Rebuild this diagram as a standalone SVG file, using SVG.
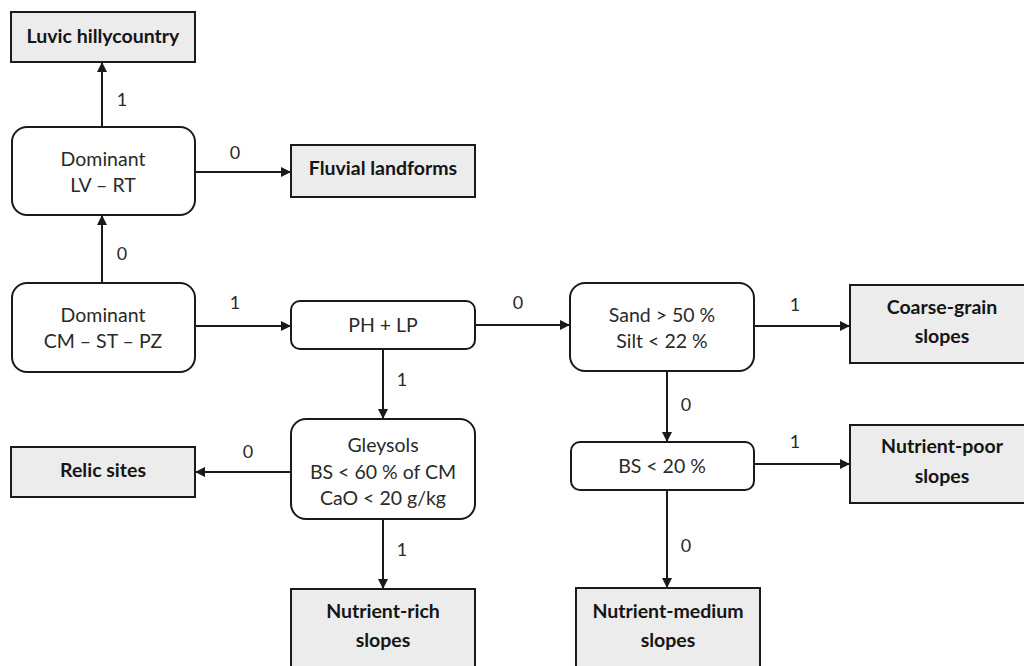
<svg xmlns="http://www.w3.org/2000/svg" width="1024" height="666" viewBox="0 0 1024 666">
<style>
.dec{fill:#fff;stroke:#1a1a1a;stroke-width:2}
.term{fill:#ececec;stroke:#1a1a1a;stroke-width:2}
.t{font-family:Lato,"Liberation Sans",sans-serif;font-size:19.5px;fill:#2a2a2a;text-anchor:middle}
.b{font-family:Lato,"Liberation Sans",sans-serif;font-size:19.5px;font-weight:bold;fill:#151515;text-anchor:middle}
.lb{font-family:Lato,"Liberation Sans",sans-serif;font-size:18px;fill:#2a2a2a;text-anchor:middle}
.c{stroke:#1a1a1a;stroke-width:2;fill:none;marker-end:url(#ah)}
</style>
<defs>
<marker id="ah" markerWidth="10" markerHeight="10" refX="9" refY="5" orient="auto" markerUnits="userSpaceOnUse">
<path d="M0,0 L10,5 L0,10 Z" fill="#1a1a1a"/>
</marker>
</defs>
<rect width="1024" height="666" fill="#fff"/>
<g id="connectors">
<line class="c" x1="102" y1="127" x2="102" y2="63"/>
<line class="c" x1="195" y1="172" x2="290" y2="172"/>
<line class="c" x1="102" y1="283" x2="102" y2="216"/>
<line class="c" x1="195" y1="326" x2="290" y2="326"/>
<line class="c" x1="475" y1="325" x2="569" y2="325"/>
<line class="c" x1="754" y1="326" x2="849" y2="326"/>
<line class="c" x1="667" y1="371" x2="667" y2="441"/>
<line class="c" x1="754" y1="464" x2="849" y2="464"/>
<line class="c" x1="667" y1="490" x2="667" y2="587"/>
<line class="c" x1="383" y1="349" x2="383" y2="418"/>
<line class="c" x1="291" y1="472" x2="196" y2="472"/>
<line class="c" x1="383" y1="519" x2="383" y2="588"/>
<text class="lb" x="122" y="106">1</text>
<text class="lb" x="235" y="159">0</text>
<text class="lb" x="122" y="260">0</text>
<text class="lb" x="235" y="309">1</text>
<text class="lb" x="518" y="309">0</text>
<text class="lb" x="795" y="311">1</text>
<text class="lb" x="686" y="411">0</text>
<text class="lb" x="795" y="448">1</text>
<text class="lb" x="686" y="552">0</text>
<text class="lb" x="402" y="386">1</text>
<text class="lb" x="248" y="458">0</text>
<text class="lb" x="402" y="556">1</text>
</g>
<g id="luvic">
<rect class="term" x="11" y="12" width="184" height="50"/>
<text class="b" x="103" y="43">Luvic hillycountry</text>
</g>
<g id="domLV">
<rect class="dec" x="12" y="127" width="183" height="88" rx="15"/>
<text class="t" x="103" y="166">Dominant</text>
<text class="t" x="103" y="192">LV – RT</text>
</g>
<g id="fluvial">
<rect class="term" x="291" y="145" width="184" height="52"/>
<text class="b" x="383" y="175">Fluvial landforms</text>
</g>
<g id="domCM">
<rect class="dec" x="12" y="283" width="183" height="89" rx="15"/>
<text class="t" x="103" y="322">Dominant</text>
<text class="t" x="103" y="348">CM – ST – PZ</text>
</g>
<g id="phlp">
<rect class="dec" x="291" y="301" width="184" height="48" rx="9"/>
<text class="t" x="383" y="332">PH + LP</text>
</g>
<g id="sand">
<rect class="dec" x="570" y="283" width="184" height="88" rx="15"/>
<text class="t" x="662" y="322">Sand &gt; 50 %</text>
<text class="t" x="662" y="348">Silt &lt; 22 %</text>
</g>
<g id="coarse">
<rect class="term" x="850" y="285" width="190" height="78"/>
<text class="b" x="942" y="314">Coarse-grain</text>
<text class="b" x="942" y="343">slopes</text>
</g>
<g id="bs20">
<rect class="dec" x="571" y="442" width="183" height="48" rx="9"/>
<text class="t" x="662" y="473">BS &lt; 20 %</text>
</g>
<g id="npoor">
<rect class="term" x="850" y="425" width="190" height="78"/>
<text class="b" x="942" y="453">Nutrient-poor</text>
<text class="b" x="942" y="483">slopes</text>
</g>
<g id="nmedium">
<rect class="term" x="576" y="588" width="184" height="90"/>
<text class="b" x="668" y="618">Nutrient-medium</text>
<text class="b" x="668" y="647">slopes</text>
</g>
<g id="gley">
<rect class="dec" x="291" y="419" width="184" height="100" rx="15"/>
<text class="t" x="383" y="452">Gleysols</text>
<text class="t" x="383" y="479">BS &lt; 60 % of CM</text>
<text class="t" x="383" y="505">CaO &lt; 20 g/kg</text>
</g>
<g id="relic">
<rect class="term" x="11" y="447" width="184" height="50"/>
<text class="b" x="103" y="477">Relic sites</text>
</g>
<g id="nrich">
<rect class="term" x="291" y="589" width="184" height="90"/>
<text class="b" x="383" y="618">Nutrient-rich</text>
<text class="b" x="383" y="647">slopes</text>
</g>
</svg>
